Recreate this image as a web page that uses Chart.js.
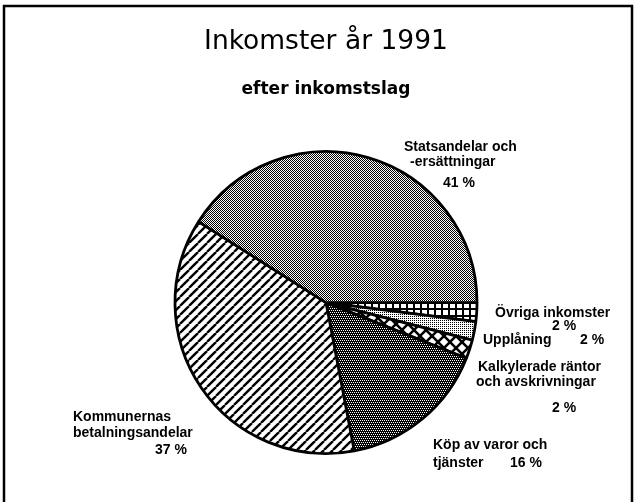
<!DOCTYPE html>
<html>
<head>
<meta charset="utf-8">
<script src="https://cdn.jsdelivr.net/npm/chart.js@4.4.0/dist/chart.umd.min.js"></script>
<style>
  body { margin: 0; background: #fff; }
  #wrap { width: 635px; height: 502px; }
</style>
</head>
<body>
<div id="wrap"><canvas id="grafica_inkomster" width="635" height="502"></canvas></div>
<script>
// data, clockwise from 3 o'clock
var categories = ['Övriga inkomster', 'Upplåning', 'Kalkylerade räntor och avskrivningar',
                  'Köp av varor och tjänster', 'Kommunernas betalningsandelar', 'Statsandelar och -ersättningar'];
var shares = [2, 2, 2, 16, 37, 41];
var labelLines = [
    ['Övriga inkomster'],
    ['Upplåning'],
    ['Kalkylerade räntor', 'och avskrivningar'],
    ['Köp av varor och', 'tjänster'],
    ['Kommunernas', 'betalningsandelar'],
    ['Statsandelar och', '-ersättningar']
];

// label placement (layout only)
var lineSpots = [
    [[495, 313]],
    [[483, 340]],
    [[478, 367], [476, 382]],
    [[433, 445], [433, 463]],
    [[73, 417], [73, 433]],
    [[404, 147], [410, 162]]
];
var pctSpots = [[552, 326], [580, 340], [552, 408], [510, 463], [155, 450], [443, 183]];

var FONT = '"Liberation Sans", Arial, sans-serif';
var FONT_TITLE = '"DejaVu Sans", sans-serif';

function makePattern(size, draw){
    var c = document.createElement('canvas');
    c.width = size; c.height = size;
    var g = c.getContext('2d');
    g.fillStyle = '#fff';
    g.fillRect(0, 0, size, size);
    g.fillStyle = '#000';
    g.strokeStyle = '#000';
    draw(g, size);
    return g.createPattern(c, 'repeat');
}

var pGrid = makePattern(7, function(g){
    g.fillRect(0, 0, 7, 7);
    g.fillStyle = '#fff';
    g.fillRect(2, 2, 5, 5);
});
var pLight = makePattern(2, function(g){
    g.fillRect(0, 0, 1, 1);
});
var pDiamond = makePattern(12, function(g){
    g.lineWidth = 2.6;
    [-12, 0, 12].forEach(function(o){
        g.beginPath(); g.moveTo(o, 0); g.lineTo(o + 12, 12); g.stroke();
        g.beginPath(); g.moveTo(o, 12); g.lineTo(o + 12, 0); g.stroke();
    });
});
var pDark = makePattern(4, function(g){
    g.fillRect(0, 0, 4, 4);
    g.fillStyle = '#fff';
    g.fillRect(0, 0, 1, 1); g.fillRect(2, 0, 1, 1);
    g.fillRect(1, 2, 1, 1); g.fillRect(3, 2, 1, 1);
});
var pHatch = makePattern(9, function(g){
    g.lineWidth = 2.4;
    [-9, 0, 9].forEach(function(o){
        g.beginPath(); g.moveTo(o, 9); g.lineTo(o + 9, 0); g.stroke();
    });
});
var pChecker = makePattern(2, function(g){
    g.fillRect(0, 0, 1, 1);
    g.fillRect(1, 1, 1, 1);
});

var fills = [pGrid, pLight, pDiamond, pDark, pHatch, pChecker];

var labelPlugin = {
    id: 'etiquetas',
    afterDraw: function(chart){
        var ctx = chart.ctx;
        ctx.save();
        ctx.fillStyle = '#000';
        ctx.font = 'bold 14px ' + FONT;
        ctx.textAlign = 'left';
        ctx.textBaseline = 'middle';
        labelLines.forEach(function(lines, i){
            lines.forEach(function(txt, j){
                ctx.fillText(txt, lineSpots[i][j][0], lineSpots[i][j][1]);
            });
            ctx.fillText(shares[i] + ' %', pctSpots[i][0], pctSpots[i][1]);
        });
        // frame
        ctx.lineWidth = 2.5;
        ctx.strokeStyle = '#000';
        ctx.strokeRect(4, 6, 628, 520);
        ctx.restore();
    }
};

var pieCanvas = document.getElementById('grafica_inkomster');

new Chart(pieCanvas, {
    type: 'pie',
    data: {
        labels: categories,
        datasets: [{
            data: shares,
            backgroundColor: fills,
            borderColor: '#000',
            borderWidth: 2.8
        }]
    },
    options: {
        responsive: false,
        animation: false,
        rotation: 90,
        radius: 151,
        layout: { padding: { left: 60, right: 43, top: 0, bottom: 0 } },
        plugins: {
            legend: { display: false },
            tooltip: { enabled: false },
            title: {
                display: true,
                text: 'Inkomster år 1991',
                color: '#000',
                font: { family: FONT_TITLE, size: 26.5, weight: 'normal' },
                padding: { top: 26, bottom: 10 }
            },
            subtitle: {
                display: true,
                text: 'efter inkomstslag',
                color: '#000',
                font: { family: FONT_TITLE, size: 17, weight: 'bold' },
                padding: { top: 12, bottom: 3 }
            }
        }
    },
    plugins: [labelPlugin]
});
</script>
</body>
</html>
